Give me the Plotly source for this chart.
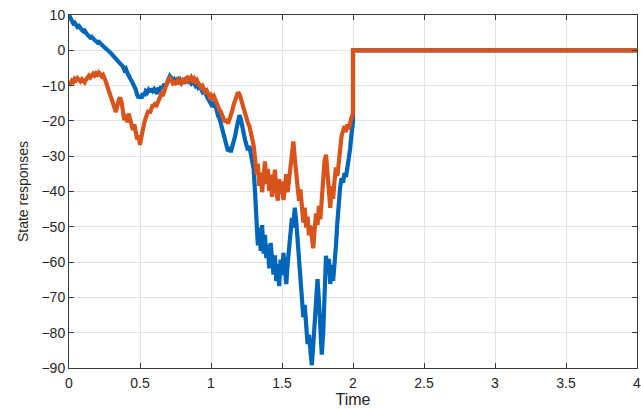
import numpy as np
import plotly.graph_objects as go

# time grid of the transient (0 to 2, step 0.01) and the settled part
t_transient = [round(i * 0.01, 2) for i in range(201)]
t_settled = [2.0, 4.0]
settled_values = [0.0, 0.0]

state1 = [
    10, 9.2, 8.1, 7.6, 7.8, 7.0, 6.6, 6.9, 6.2, 5.8,
    5.4, 5.6, 4.9, 4.3, 4.0, 3.6, 3.8, 3.2, 2.9, 2.6,
    2.2, 2.4, 1.9, 1.5, 1.2, 0.8, 0.5, 0.2, -0.3, -0.6,
    -1.0, -1.5, -1.9, -2.3, -2.8, -3.4, -3.9, -4.3, -4.6, -5.6,
    -5.2, -6.3, -7.4, -7.9, -8.6, -9.4, -10.2, -11.1, -12.6, -13.5,
    -12.8, -13.6, -12.2, -12.9, -11.6, -12.0, -11.2, -11.8, -10.9, -11.5,
    -11.0, -11.7, -12.3, -10.6, -11.1, -10.2, -10.8, -9.6, -10.1, -9.2,
    -8.1, -7.3, -7.8, -8.6, -8.2, -9.0, -8.4, -8.9, -8.3, -9.1,
    -8.7, -9.4, -8.5, -9.1, -8.2, -8.8, -9.3, -8.6, -9.5, -10.0,
    -9.4, -10.5, -10.1, -11.2, -11.8, -11.3, -12.4, -13.1, -13.8, -14.5,
    -15.2, -14.6, -16.1, -15.5, -17.2, -18.6, -19.3, -20.8, -22.4, -24.1,
    -26.3, -27.5, -28.6, -27.4, -28.9, -27.2, -26.0, -24.3, -22.1, -20.2,
    -18.4, -19.5, -21.8, -23.6, -25.4, -26.8, -28.3, -27.1, -29.5, -31.2,
    -33.5, -40.2, -47.6, -55.3, -50.2, -56.8, -49.5, -57.6, -52.3, -58.9,
    -55.1, -61.8, -54.6, -60.2, -63.5, -58.1, -65.4, -60.6, -66.8, -59.3,
    -63.7, -57.4, -62.5, -66.2, -60.4, -56.3, -52.1, -47.5, -50.2, -44.6,
    -48.3, -54.6, -60.2, -65.8, -70.4, -75.6, -72.1, -79.8, -83.2, -80.6,
    -85.4, -89.2, -83.6, -76.1, -68.5, -64.8, -70.9, -78.4, -86.2, -80.3,
    -70.6, -58.2, -63.4, -59.1, -66.2, -60.8, -65.3, -61.2, -55.4, -48.6,
    -42.3, -38.6, -36.2, -37.5, -34.8, -35.9, -33.4, -31.2, -27.8, -23.5,
    -20.5,
]

state2 = [
    -10.0, -9.3, -8.6, -9.0, -8.1, -8.5, -7.9, -8.4, -8.8, -8.2,
    -8.6, -9.1, -8.3, -7.6, -7.2, -7.7, -7.0, -6.6, -7.1, -6.5,
    -6.9, -6.3, -6.8, -7.4, -7.0, -7.8, -8.9, -10.2, -11.6, -12.4,
    -13.5, -14.8, -16.2, -17.5, -15.6, -14.1, -13.4, -14.6, -17.3, -19.8,
    -18.2, -20.4, -17.9, -19.5, -21.3, -22.6, -21.0, -23.4, -25.2, -24.1,
    -26.8, -24.5, -22.1, -20.6, -19.2, -18.1, -17.0, -17.8, -16.2, -15.4,
    -16.0, -14.8, -15.3, -14.1, -13.2, -12.4, -12.9, -11.3, -10.4, -9.5,
    -8.8, -7.9, -8.4, -9.2, -8.6, -9.6, -9.0, -8.3, -8.9, -9.4,
    -8.6, -9.2, -8.1, -7.8, -8.7, -8.2, -7.6, -8.5, -8.0, -8.9,
    -8.4, -9.3, -9.9, -10.6, -10.1, -11.2, -11.8, -11.4, -12.6, -13.2,
    -12.7, -13.5, -13.0, -14.1, -14.8, -15.6, -16.9, -17.5, -18.8, -19.6,
    -20.3, -19.5, -20.8, -19.7, -18.6, -17.1, -15.4, -13.8, -13.1, -11.9,
    -12.4, -13.6, -15.2, -16.8, -18.5, -19.1, -20.6, -21.4, -23.1, -24.8,
    -26.9, -30.5, -35.2, -32.1, -38.4, -34.6, -40.2, -35.8, -31.5, -37.9,
    -33.6, -39.8, -35.2, -41.5, -37.4, -33.8, -39.1, -42.6, -36.5, -40.8,
    -37.2, -42.4, -38.9, -35.1, -40.2, -36.4, -31.8, -27.2, -25.8, -30.6,
    -34.5, -38.2, -42.6, -39.4, -45.1, -48.8, -44.6, -50.2, -47.1, -52.4,
    -49.6, -54.3, -56.1, -50.8, -46.2, -49.5, -44.1, -47.9, -42.3, -36.5,
    -31.2, -29.6, -34.8, -40.2, -44.6, -38.5, -42.1, -36.9, -33.2, -35.6,
    -31.4, -27.2, -24.1, -22.8, -21.5, -23.2, -21.0, -22.4, -19.8, -18.9,
    -18.0,
]

x_ticks = [0, 0.5, 1, 1.5, 2, 2.5, 3, 3.5, 4]
x_ticktext = ["0", "0.5", "1", "1.5", "2", "2.5", "3", "3.5", "4"]
y_ticks = [10, 0, -10, -20, -30, -40, -50, -60, -70, -80, -90]

BLUE = "#0066BA"
ORANGE = "#D9541A"
FONT = "Liberation Sans, Arial, Helvetica, sans-serif"

fig = go.Figure()
fig.add_trace(go.Scatter(x=t_transient + t_settled, y=state1 + settled_values,
                         mode="lines", line=dict(color=BLUE, width=4.2),
                         showlegend=False))
fig.add_trace(go.Scatter(x=t_transient + t_settled, y=state2 + settled_values,
                         mode="lines", line=dict(color=ORANGE, width=4.2),
                         showlegend=False))

axis_common = dict(
    showgrid=True, gridcolor="#e3e3e3", gridwidth=1,
    zeroline=False, showline=True, linecolor="#3a3a3a", linewidth=1,
    mirror="ticks", ticks="inside", ticklen=5, tickcolor="#3a3a3a",
    tickfont=dict(family=FONT, size=14, color="#262626"),
    ticklabeloverflow="allow",
)

fig.update_layout(
    width=641, height=409,
    margin=dict(l=69, r=4, t=15, b=41),
    paper_bgcolor="white", plot_bgcolor="white",
    xaxis=dict(range=[0, 4], tickvals=x_ticks, ticktext=x_ticktext,
               ticklabelstandoff=2, automargin=False,
               title=dict(text="Time", standoff=3,
                          font=dict(family=FONT, size=16, color="#262626")),
               **axis_common),
    yaxis=dict(range=[-90, 10], tickvals=y_ticks, automargin=False,
               title=dict(text="State responses", standoff=9,
                          font=dict(family=FONT, size=14, color="#262626")),
               **axis_common),
)

fig.write_html("out.html")
